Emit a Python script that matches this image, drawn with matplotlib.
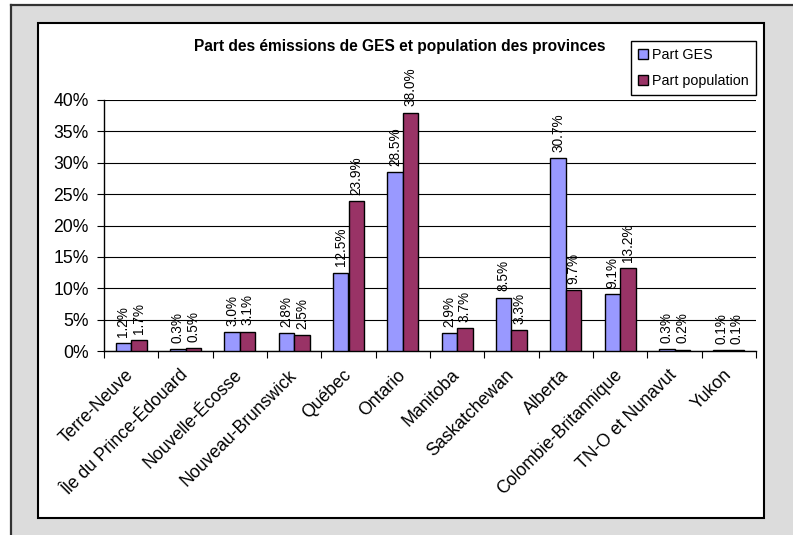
import matplotlib
matplotlib.use("Agg")
import matplotlib.pyplot as plt
from matplotlib.patches import Rectangle
from matplotlib.lines import Line2D
from matplotlib.transforms import ScaledTranslation
import numpy as np

plt.rcParams['font.family'] = ['Liberation Sans', 'DejaVu Sans']

categories = ["Terre-Neuve", "Île du Prince-Édouard", "Nouvelle-Écosse", "Nouveau-Brunswick",
              "Québec", "Ontario", "Manitoba", "Saskatchewan", "Alberta",
              "Colombie-Britannique", "TN-O et Nunavut", "Yukon"]
part_ges = [1.2, 0.3, 3.0, 2.8, 12.5, 28.5, 2.9, 8.5, 30.7, 9.1, 0.3, 0.1]
part_pop = [1.7, 0.5, 3.1, 2.5, 23.9, 38.0, 3.7, 3.3, 9.7, 13.2, 0.2, 0.1]
yticks = [0, 5, 10, 15, 20, 25, 30, 35, 40]
title = "Part des émissions de GES et population des provinces"

W, H = 793, 535
fig = plt.figure(figsize=(W/100, H/100), dpi=100)
fig.patch.set_facecolor("white")

def fx(x): return x / W
def fy(y): return 1 - y / H

# outer gray frame
fig.patches.append(Rectangle((fx(11), 0), 1 - fx(11), fy(5), transform=fig.transFigure,
                             facecolor="#DCDCDC", edgecolor="none", zorder=0))
fig.lines.append(Line2D([fx(11), fx(11)], [0, fy(5)], transform=fig.transFigure, color="#333333", lw=1.6))
fig.lines.append(Line2D([fx(11), 1], [fy(5), fy(5)], transform=fig.transFigure, color="#333333", lw=1.6))
# inner white chart area
fig.patches.append(Rectangle((fx(38), fy(518)), fx(764) - fx(38), fy(23) - fy(518), transform=fig.transFigure,
                             facecolor="white", edgecolor="black", lw=1.5, zorder=1))

ax = fig.add_axes([fx(104), fy(351), fx(756) - fx(104), fy(100) - fy(351)])
ax.set_zorder(2)
ax.patch.set_facecolor("white")

n = len(categories)
x = np.arange(n) + 0.5
w = 1 / 3.5
ax.bar(x - w/2, part_ges, w, color="#9999FF", edgecolor="black", lw=1.0, label="Part GES", zorder=3)
ax.bar(x + w/2, part_pop, w, color="#993366", edgecolor="black", lw=1.0, label="Part population", zorder=3)

for xs, vals in ((x - w/2, part_ges), (x + w/2, part_pop)):
    for xi, v in zip(xs, vals):
        ax.annotate(f"{v:.1f}%", (xi, v), xytext=(0, 4.5), textcoords="offset points",
                    rotation=90, ha="center", va="bottom", fontsize=9.8, zorder=4)

ax.set_xlim(0, n)
ax.set_ylim(0, 40)
ax.set_yticks(yticks)
ax.set_yticklabels([f"{t}%" for t in yticks], fontsize=12.7)
ax.yaxis.grid(True, color="black", lw=0.8)
ax.set_axisbelow(True)
ax.set_xticks(np.arange(n + 1))
ax.set_xticklabels([])
ax.set_xticks(x, minor=True)
labs = ax.set_xticklabels(categories, minor=True, rotation=45, ha="right", va="center",
                          rotation_mode="anchor", fontsize=12.7)
shift = ScaledTranslation(-10/100, 0, fig.dpi_scale_trans)
for lab in labs:
    lab.set_transform(lab.get_transform() + shift)
ax.tick_params(axis="x", which="minor", length=0, pad=15.5)
ax.tick_params(axis="x", which="major", length=5, direction="out", color="black")
ax.tick_params(axis="y", length=5, direction="out", color="black", pad=6)
for s in ["top", "right"]:
    ax.spines[s].set_visible(False)
for s in ["left", "bottom"]:
    ax.spines[s].set_color("black")
    ax.spines[s].set_linewidth(1.0)

fig.text(fx(400), fy(46), title, ha="center", va="center", fontsize=11.2, fontweight="bold")

leg = ax.legend(loc="upper left", bbox_to_anchor=(fx(631), fy(41)), bbox_transform=fig.transFigure,
                fancybox=False, framealpha=1, edgecolor="black", fontsize=10.3,
                handlelength=0.7, handleheight=0.7, handletextpad=0.3, borderpad=0.5,
                labelspacing=0.85, borderaxespad=0)
leg.get_frame().set_linewidth(1.0)
leg.set_zorder(5)

fig.savefig("out.png", dpi=100)
